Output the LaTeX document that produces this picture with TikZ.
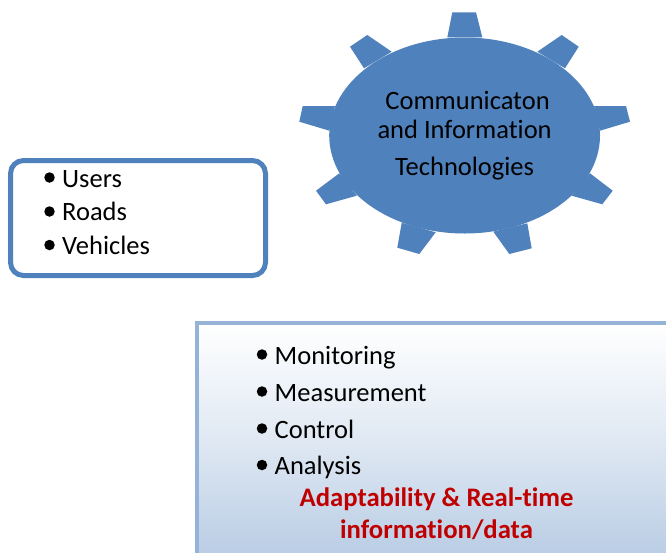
\documentclass[tikz,border=0pt]{standalone}
\usepackage{fontspec}
\setmainfont{Carlito}[Ligatures=NoCommon]
\usetikzlibrary{positioning, shapes.geometric}

\definecolor{gearblue}{HTML}{4F81BD}
\definecolor{panelline}{HTML}{95B3D7}
\definecolor{panelfill}{HTML}{B8CCE4}
\definecolor{darkred}{HTML}{C00000}

\begin{document}
\begin{tikzpicture}
[
    x=1pt, y=-1pt,
    % Bullets are named B-row, their labels L-row
    % Rows 1 to 3 sit in the left box, rows 4 to 7 in the panel
    font=\fontsize{26.5}{31}\selectfont
]

%=================================== Start ===================================
\tikzstyle{gear}  = [ellipse, fill=gearblue, inner sep=0pt, align=center,
                     minimum width=270.8pt, minimum height=196pt]
\tikzstyle{n}     = [circle, fill, minimum size=10.5pt, inner sep=0pt, outer sep=0pt]
\tikzstyle{item}  = [anchor=base west, inner sep=0pt]
\tikzstyle{note}  = [anchor=base, inner sep=0pt, text=darkred, font=\fontsize{26.7}{31}\selectfont\bfseries]

\useasboundingbox (0,0) rectangle (666,552);
\clip (0,0) rectangle (666,552);

% Panel runs off the right and bottom edges
\draw[panelline, line width=3.5pt, top color=white, bottom color=panelfill, middle color=panelfill!45]
    (197,323) rectangle (680,560);

% Left box
\draw[gearblue, line width=5pt, rounded corners=13pt] (10.5,160.5) rectangle (265.5,275.5);

% Draw teeth, inner ends are hidden by the body
\foreach \xa / \ya / \xb / \yb / \xc / \yc / \xd / \yd in {
    447.3/37.3/452.3/12.3/476/12.3/482.3/37.3,
    537.3/51.7/561.7/35/578.7/46.7/565/68.3,
    594/106/626/106/630/121.7/600/130.7,
    590/173.3/612.7/190.7/602.3/204.3/571.7/195.7,
    527.3/223.3/531.7/248.3/509.3/254/493.3/231.7,
    435.7/232.3/419.3/254/397.3/247.7/401.7/222.7,
    356.7/195.7/326/204.3/316/190.7/339.3/173.3,
    329.3/130.7/299.3/121.7/302.7/106/335/106,
    364/68.3/350/46.7/367.3/35/391.7/51.7}
    \fill[gearblue] (\xa,\ya) -- (\xb,\yb) -- (\xc,\yc) -- (\xd,\yd) -- cycle;

\node[gear] (body) at (464.6,135.5) {\hspace*{6pt}Communicaton\\[-1.5pt] and Information\\[6pt] Technologies};

% Draw bullets and labels
\foreach \r / \bx / \by / \lx / \ly / \txt in {
    1/49.5/177.5/62/187/Users,
    2/49.5/211.5/62/220.5/Roads,
    3/49.5/245/62/254/Vehicles,
    4/262/354.5/274.5/364/Monitoring,
    5/262/391.5/274.5/401/Measurement,
    6/262/428.5/274.5/438/Control,
    7/262/465/274.5/474/Analysis}
{
    \node[n] (B-\r) at (\bx,\by) {};
    \node[item] (L-\r) at (\lx,\ly) {\txt};
}

\node[note] (note-1) at (436.5,506.5) {Adaptability \& Real-time};
\node[note] (note-2) at (436.5,538) {information/data};
%==================================== END ====================================

\end{tikzpicture}
\end{document}
